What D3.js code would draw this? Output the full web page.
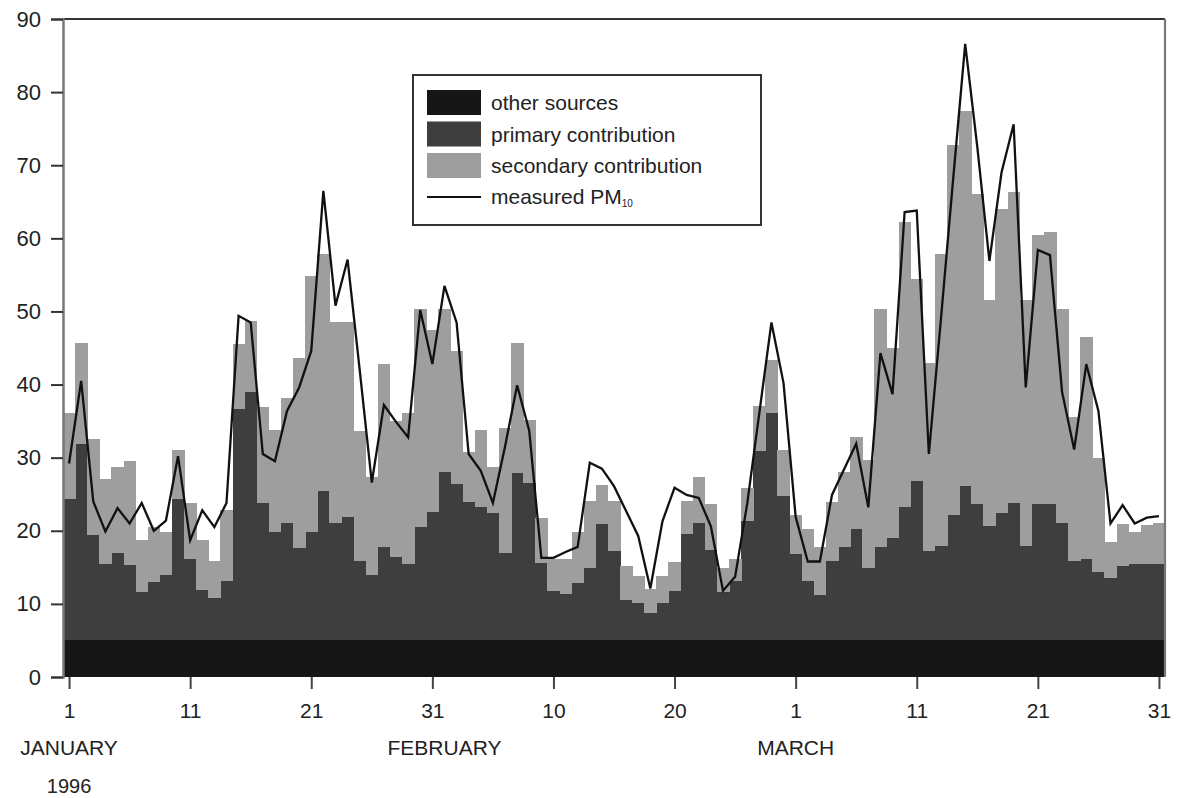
<!DOCTYPE html>
<html>
<head>
<meta charset="utf-8">
<script src="https://cdn.jsdelivr.net/npm/d3@7"></script>
<style>
  body { margin: 0; background: #fff; }
  text { font-family: "Liberation Sans", Arial, sans-serif; fill: #222; }
</style>
</head>
<body>
<svg id="chart"></svg>
<script>
// days 1..91 (1 Jan - 31 Mar 1996)
const days = d3.range(1, 92);

const otherSources = days.map(() => 5);

// top of the primary bar
const primaryTop = [
  24.4, 31.9, 19.4, 15.5, 16.9, 15.3, 11.6, 13.0, 14.0, 24.4,
  16.1, 11.9, 10.8, 13.1, 36.6, 39.0, 23.8, 19.9, 21.1, 17.7,
  19.9, 25.5, 21.1, 21.9, 15.9, 14.0, 17.8, 16.4, 15.5, 20.5,
  22.6, 28.1, 26.4, 24.0, 23.2, 22.5, 16.9, 27.9, 26.6, 15.6,
  11.7, 11.4, 12.9, 14.9, 20.9, 17.2, 10.6, 10.1, 8.7, 10.1,
  11.7, 19.6, 21.1, 17.4, 11.6, 13.1, 21.4, 30.9, 36.1, 24.7,
  16.8, 13.1, 11.2, 15.8, 17.8, 20.3, 14.9, 17.8, 19.0, 23.2,
  26.8, 17.2, 17.9, 22.2, 26.1, 23.7, 20.6, 22.5, 23.8, 17.9,
  23.7, 23.7, 21.1, 15.8, 16.2, 14.3, 13.6, 15.2, 15.5, 15.5,
  15.5
];

// top of the stacked bar (other + primary + secondary)
const totalTop = [
  36.1, 45.7, 32.6, 27.1, 28.7, 29.6, 18.7, 20.5, 19.9, 31.1,
  23.8, 18.7, 15.9, 22.8, 45.5, 48.7, 36.9, 33.8, 38.1, 43.7,
  54.9, 57.9, 48.5, 48.5, 33.7, 27.4, 42.8, 35.0, 36.1, 50.3,
  47.5, 50.3, 44.6, 30.8, 33.8, 28.7, 34.0, 45.7, 35.2, 21.7,
  16.1, 16.1, 19.8, 24.1, 26.2, 24.1, 15.2, 13.8, 12.0, 13.8,
  15.7, 24.1, 27.3, 23.6, 14.9, 16.2, 25.8, 37.1, 43.4, 31.1,
  22.2, 20.2, 17.8, 24.0, 28.1, 32.8, 29.7, 50.3, 45.0, 62.2,
  54.4, 43.0, 57.8, 72.8, 77.4, 66.0, 51.5, 64.0, 66.4, 51.5,
  60.5, 60.8, 50.3, 35.5, 46.5, 29.9, 18.5, 20.9, 19.9, 20.8,
  21.1
];

const measuredPM10 = [
  29.2, 40.5, 24.0, 19.9, 23.1, 21.0, 23.8, 20.0, 21.4, 30.2,
  18.7, 22.8, 20.5, 23.8, 49.4, 48.5, 30.5, 29.5, 36.4, 39.6,
  44.6, 66.5, 50.8, 57.1, 42.0, 26.6, 37.2, 34.9, 32.8, 50.2,
  42.8, 53.5, 48.5, 30.5, 28.2, 23.8, 31.5, 39.9, 33.7, 16.3,
  16.3, 17.1, 17.8, 29.3, 28.5, 26.1, 22.7, 19.3, 12.1, 21.3,
  25.9, 24.9, 24.5, 20.6, 11.8, 13.7, 23.7, 36.1, 48.5, 40.2,
  21.9, 15.8, 15.8, 24.9, 28.4, 31.9, 23.2, 44.3, 38.7, 63.6,
  63.8, 30.5, 49.0, 68.0, 86.6, 72.5, 56.9, 69.0, 75.6, 39.6,
  58.4, 57.7, 39.0, 31.1, 42.8, 36.4, 21.0, 23.5, 21.0, 21.8,
  22.0
];

const primary = primaryTop.map(v => +(v - 5).toFixed(1));
const secondary = totalTop.map((v, i) => +(v - primaryTop[i]).toFixed(1));

const xTickDays = [1, 11, 21, 31, 41, 51, 61, 71, 81, 91];
const xTickLabels = ["1", "11", "21", "31", "10", "20", "1", "11", "21", "31"];
const monthLabels = [
  { day: 1, text: "JANUARY" },
  { day: 32, text: "FEBRUARY" },
  { day: 61, text: "MARCH" }
];
const yTicks = d3.range(0, 91, 10);

const seriesKeys = ["other", "primary", "secondary"];
const seriesNames = ["other sources", "primary contribution", "secondary contribution"];
const seriesColors = ["#161616", "#3e3e3e", "#9e9e9e"];

const width = 1178, height = 798;
const plot = { left: 63, right: 1165, top: 19, bottom: 677 };

const svg = d3.select("#chart")
  .attr("width", width)
  .attr("height", height);

const x = d3.scaleLinear()
  .domain([0.5, 91.5])
  .range([plot.left, plot.right]);

const y = d3.scaleLinear()
  .domain([0, 90])
  .range([plot.bottom, plot.top]);

const table = days.map((d, i) => ({
  day: d,
  other: otherSources[i],
  primary: primary[i],
  secondary: secondary[i],
  measured: measuredPM10[i]
}));

const stack = d3.stack().keys(seriesKeys);
const layers = stack(table);

const color = d3.scaleOrdinal().domain(seriesKeys).range(seriesColors);

// stacked bars, one step per day, no gap
svg.append("g")
  .selectAll("g")
  .data(layers)
  .join("g")
    .attr("fill", d => color(d.key))
  .selectAll("rect")
  .data(d => d)
  .join("rect")
    .attr("shape-rendering", "crispEdges")
    .attr("x", d => x(d.data.day - 0.5))
    .attr("width", d => x(d.data.day + 0.5) - x(d.data.day - 0.5) + 0.5)
    .attr("y", d => y(d[1]))
    .attr("height", d => y(d[0]) - y(d[1]));

// measured PM10 line
const line = d3.line()
  .x(d => x(d.day))
  .y(d => y(d.measured));

svg.append("path")
  .datum(table)
  .attr("fill", "none")
  .attr("stroke", "#111")
  .attr("stroke-width", 2.3)
  .attr("stroke-linejoin", "miter")
  .attr("d", line);

// frame: top and right borders
svg.append("line")
  .attr("x1", plot.left).attr("x2", plot.right)
  .attr("y1", plot.top).attr("y2", plot.top)
  .attr("stroke", "#333").attr("stroke-width", 1.8);

svg.append("line")
  .attr("x1", plot.right).attr("x2", plot.right)
  .attr("y1", plot.top).attr("y2", plot.bottom)
  .attr("stroke", "#777").attr("stroke-width", 2.2);

// y axis
const yAxis = svg.append("g")
  .attr("transform", `translate(${plot.left},0)`)
  .call(d3.axisLeft(y).tickValues(yTicks).tickSize(12).tickPadding(10));

yAxis.select(".domain").attr("stroke", "#777").attr("stroke-width", 2.5);
yAxis.selectAll(".tick line").attr("stroke", "#333").attr("stroke-width", 2);
yAxis.selectAll(".tick text")
  .style("font-size", "22px")
  .attr("fill", "#222")
  .attr("font-family", null);

// x axis
const xAxis = svg.append("g")
  .attr("transform", `translate(0,${plot.bottom})`)
  .call(d3.axisBottom(x)
    .tickValues(xTickDays)
    .tickFormat((d, i) => xTickLabels[i])
    .tickSize(12)
    .tickPadding(14));

xAxis.select(".domain").remove();
xAxis.selectAll(".tick line").attr("stroke", "#444").attr("stroke-width", 2);
xAxis.selectAll(".tick text")
  .style("font-size", "21px")
  .attr("fill", "#222")
  .attr("font-family", null);

// month labels
svg.append("g")
  .selectAll("text")
  .data(monthLabels)
  .join("text")
    .attr("x", d => x(d.day))
    .attr("y", 755)
    .attr("text-anchor", "middle")
    .style("font-size", "21px")
    .text(d => d.text);

svg.append("text")
  .attr("x", x(1))
  .attr("y", 793)
  .attr("text-anchor", "middle")
  .style("font-size", "20px")
  .text("1996");

// legend
const legend = svg.append("g").attr("transform", "translate(413,75)");

legend.append("rect")
  .attr("width", 348)
  .attr("height", 150)
  .attr("fill", "#fff")
  .attr("stroke", "#333")
  .attr("stroke-width", 2);

const legendRows = [0, 1, 2];
legend.selectAll("rect.swatch")
  .data(legendRows)
  .join("rect")
    .attr("class", "swatch")
    .attr("x", 14)
    .attr("y", i => 15 + i * 31.5)
    .attr("width", 54)
    .attr("height", 25)
    .attr("fill", i => seriesColors[i]);

legend.selectAll("text.lab")
  .data(legendRows)
  .join("text")
    .attr("class", "lab")
    .attr("x", 78)
    .attr("y", i => 35 + i * 31.5)
    .style("font-size", "21px")
    .text(i => seriesNames[i]);

legend.append("line")
  .attr("x1", 14).attr("x2", 68)
  .attr("y1", 122).attr("y2", 122)
  .attr("stroke", "#111").attr("stroke-width", 2);

const pmText = legend.append("text")
  .attr("x", 78)
  .attr("y", 129)
  .style("font-size", "21px");
pmText.append("tspan").text("measured PM");
pmText.append("tspan")
  .attr("dy", 3)
  .style("font-size", "10px")
  .text("10");
</script>
</body>
</html>
